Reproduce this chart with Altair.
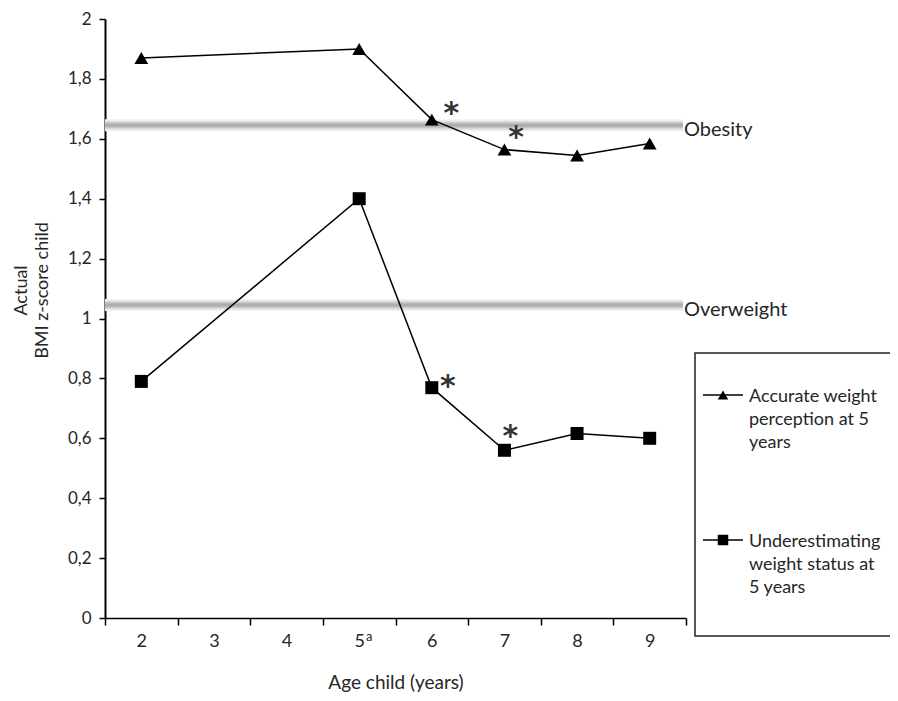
import altair as alt
import pandas as pd

# ---------------- data ----------------
ages = ["2", "3", "4", "5", "6", "7", "8", "9"]
series = ["Accurate weight perception at 5 years",
          "Underestimating weight status at 5 years"]
acc_age = ["2", "5", "6", "7", "8", "9"]
acc_z = [1.87, 1.90, 1.664, 1.564, 1.544, 1.584]
und_age = ["2", "5", "6", "7", "8", "9"]
und_z = [0.79, 1.40, 0.769, 0.56, 0.616, 0.60]

thr_names = ["Obesity", "Overweight"]
thr_z = [1.645, 1.045]

# significance asterisks: category, shift within the year, z value
ast_age = ["6", "7", "6", "7"]
ast_shift = [0.27, 0.16, 0.22, 0.08]
ast_z = [1.707, 1.627, 0.795, 0.629]

legend_labels = ["Accurate weight\nperception at 5\nyears",
                 "Underestimating\nweight status  at\n5 years"]

y_ticks = [0, 0.2, 0.4, 0.6, 0.8, 1.0, 1.2, 1.4, 1.6, 1.8, 2.0]

FONT = "Lato"
TXT = "#262626"
TOP = 11
W, H = 581, 599
SVG_W, SVG_H = 882, 684

df = pd.DataFrame({
    "age": acc_age + und_age,
    "z": acc_z + und_z,
    "group": [series[0]] * len(acc_age) + [series[1]] * len(und_age),
})
thr_df = pd.DataFrame({"name": thr_names, "z": thr_z})
ast_df = pd.DataFrame({"age": ast_age, "shift": ast_shift, "z": ast_z, "t": ["*"] * 4})

xscale = alt.Scale(type="band", domain=ages, paddingInner=0, paddingOuter=0)
yscale = alt.Scale(domain=[0, 2], nice=False, zero=True)

xaxis = alt.Axis(title="Age child (years)", labelAngle=0, tickBand="extent",
                 tickSize=7, tickWidth=1.5, tickColor="black",
                 domainColor="black", domainWidth=1.5,
                 labelPadding=7, labelFontSize=18, labelFont=FONT, labelColor=TXT,
                 titleFont=FONT, titleFontSize=19, titleFontWeight="normal",
                 titleColor=TXT, titleY=70, titleBaseline="alphabetic", grid=False)
yaxis = alt.Axis(title=["Actual", "BMI z-score child"], values=y_ticks,
                 labelExpr="abs(datum.value - round(datum.value)) < 1e-6 ? format(datum.value, 'd') : replace(format(datum.value, '.1f'), '.', ',')",
                 tickSize=6, tickWidth=1.5, tickColor="black",
                 domainColor="black", domainWidth=2,
                 labelPadding=8, labelFontSize=17, labelFont=FONT, labelColor=TXT,
                 titleFont=FONT, titleFontSize=18, titleFontWeight="normal",
                 titleColor=TXT, titleX=-79, titleY=271, titleAngle=270,
                 titleAlign="center", titleBaseline="alphabetic", titleLineHeight=21,
                 grid=False)

X = alt.X("age:N", scale=xscale, axis=xaxis, bandPosition=0.5)
Y = alt.Y("z:Q", scale=yscale, axis=yaxis)

# blurred grey threshold bands
band_layers = []
for sw, col in [(12, "#f2f2f2"), (9, "#dedede"), (6, "#c6c6c6"), (3, "#adadad")]:
    band_layers.append(
        alt.Chart(thr_df).mark_rule(strokeWidth=sw, color=col).encode(
            y=alt.Y("z:Q", scale=yscale), x=alt.value(0), x2=alt.value(578))
    )
thr_text = alt.Chart(thr_df).mark_text(align="left", baseline="middle", dy=5,
                                       font=FONT, fontSize=20, color=TXT).encode(
    y=alt.Y("z:Q", scale=yscale), x=alt.value(579), text="name:N")

lines = alt.Chart(df).mark_line(color="black", strokeWidth=1.5).encode(
    x=X, y=Y, detail="group:N")
points = alt.Chart(df).mark_point(filled=True, opacity=1, color="black").encode(
    x=X, y=Y,
    shape=alt.Shape("group:N", scale=alt.Scale(domain=series, range=["triangle-up", "square"]), legend=None),
    size=alt.Size("group:N", scale=alt.Scale(domain=series, range=[190, 169]), legend=None),
)

asterisks = alt.Chart(ast_df).mark_text(font="DejaVu Sans", fontSize=30, fontWeight="bold",
                                        color="#333333", baseline="alphabetic", dy=16).encode(
    x=alt.X("age:N", scale=xscale),
    xOffset=alt.XOffset("shift:Q", scale=alt.Scale(domain=[-0.5, 0.5])),
    y=alt.Y("z:Q", scale=yscale), text="t:N")

sup_a = alt.Chart(pd.DataFrame({"age": ["5"], "t": ["a"]})).mark_text(
    font=FONT, fontSize=13, color=TXT, dx=10, baseline="middle").encode(
    x=alt.X("age:N", scale=xscale, bandPosition=0.5), y=alt.value(H + 19), text="t:N")

# custom legend
leg_box = alt.Chart(pd.DataFrame({"k": [0]})).mark_rect(
    fill="white", stroke="#222222", strokeWidth=1.5).encode(
    x=alt.value(590), x2=alt.value(SVG_W - 97 + 20), y=alt.value(334), y2=alt.value(617))
leg_layers = [leg_box]
for i, (shape, yy) in enumerate([("triangle-up", 376), ("square", 521)]):
    d = pd.DataFrame({"k": [i], "label": [legend_labels[i]]})
    leg_layers.append(alt.Chart(d).mark_rule(color="black", strokeWidth=1.5).encode(
        x=alt.value(598), x2=alt.value(638), y=alt.value(yy)))
    leg_layers.append(alt.Chart(d).mark_point(shape=shape, filled=True, opacity=1,
                                              color="black", size=110).encode(
        x=alt.value(618), y=alt.value(yy)))
    leg_layers.append(alt.Chart(d).mark_text(align="left", baseline="alphabetic",
                                             lineBreak="\n", lineHeight=23,
                                             font=FONT, fontSize=18, color=TXT).encode(
        x=alt.value(644), y=alt.value(yy + 7), text="label:N"))

chart = alt.layer(*band_layers, lines, points, asterisks, thr_text, sup_a, *leg_layers).properties(
    width=W, height=H,
    autosize=alt.AutoSizeParams(type="none"),
    padding={"left": 97, "top": TOP, "right": SVG_W - 97 - W, "bottom": SVG_H - TOP - H},
).configure_view(stroke=None)

chart.save("out.html", embed_options={"renderer": "svg", "actions": False})
